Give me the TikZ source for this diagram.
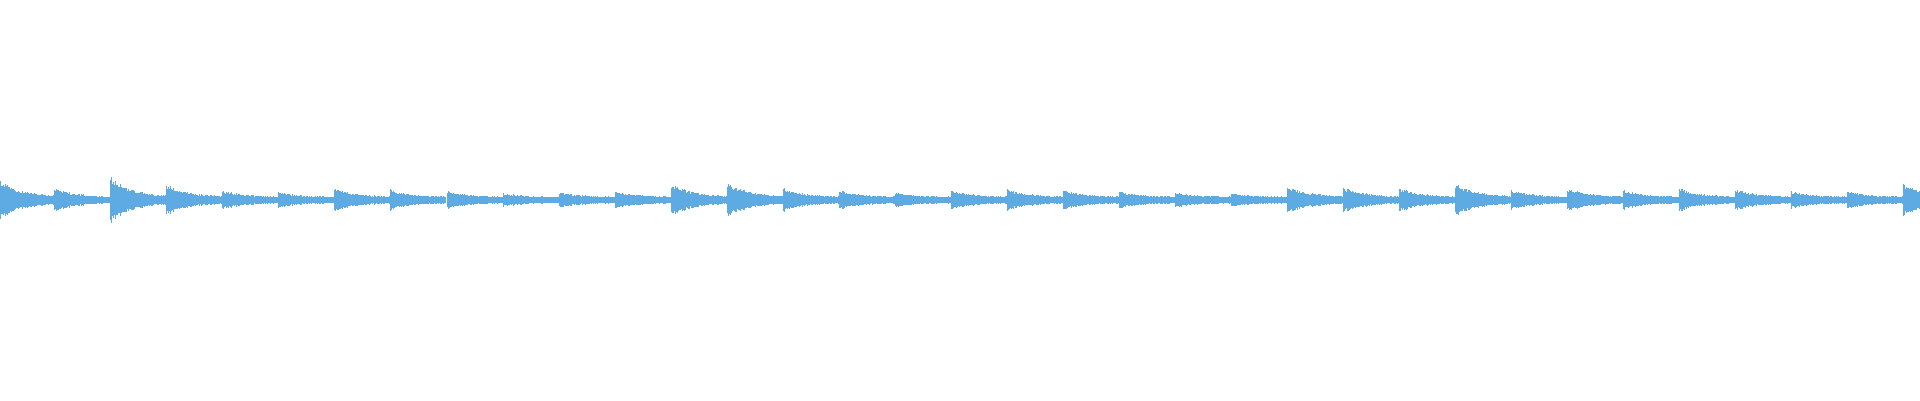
\documentclass[tikz,border=0pt]{standalone}
\usepackage{tikz}
\definecolor{wavecol}{RGB}{93,171,226}

\begin{document}
\begin{tikzpicture}[x=0.02cm,y=0.02cm]
    % Canvas
    \useasboundingbox (0,0) rectangle (1920,400);
    \pgfmathsetseed{7}

    % Bursts: start / peak half-height
    \foreach \s/\a in {0/20, 54/12, 110/24, 166/16, 222/10, 278/8, 334/12, 390/11,
                       447/9, 503/7, 559/8, 615/9, 671/17, 727/18, 783/12, 839/10,
                       895/8, 951/10, 1007/11, 1063/10, 1119/9, 1175/8, 1231/7, 1287/15,
                       1343/13, 1399/12, 1455/17, 1511/10, 1567/12, 1623/10, 1679/12, 1735/11,
                       1791/9, 1847/9, 1903/17} {
        \foreach \k in {0,...,55} {
            \pgfmathsetmacro\h{(3.2+(\a-3.2)*exp(-\k/22))*(0.7+0.3*rnd)}
            \fill[wavecol] (\s+\k,200-\h) rectangle (\s+\k+1.1,200+\h);
        }
    }
\end{tikzpicture}
\end{document}
